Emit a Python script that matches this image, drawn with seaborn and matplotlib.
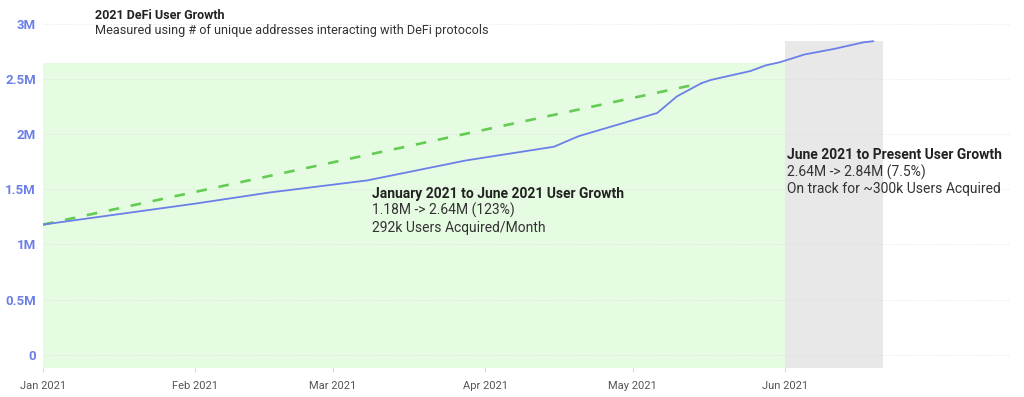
import matplotlib
matplotlib.use("Agg")
import matplotlib.pyplot as plt
import matplotlib.dates as mdates
import seaborn as sns
import pandas as pd

# unique DeFi addresses (millions)
dates = ["2021-01-01", "2021-02-01", "2021-02-16", "2021-03-08", "2021-03-28",
         "2021-04-15", "2021-04-20", "2021-05-06", "2021-05-10", "2021-05-15",
         "2021-05-17", "2021-05-25", "2021-05-28", "2021-05-31", "2021-06-05",
         "2021-06-11", "2021-06-17", "2021-06-19"]
users = [1.18, 1.37, 1.47, 1.58, 1.76,
         1.885, 1.98, 2.19, 2.34, 2.46,
         2.49, 2.57, 2.62, 2.65, 2.72,
         2.77, 2.83, 2.84]

trend_dates = ["2021-01-01", "2021-05-15"]
trend_users = [1.18, 2.46]

h1_span = ["2021-01-01", "2021-06-01"]
h1_top = 2.64
h2_span = ["2021-06-01", "2021-06-21"]
h2_top = 2.84

yticks = [0, 0.5, 1, 1.5, 2, 2.5, 3]
ytick_labels = ["0", "0.5M", "1M", "1.5M", "2M", "2.5M", "3M"]
xticks = ["2021-01-01", "2021-02-01", "2021-03-01", "2021-04-01", "2021-05-01", "2021-06-01"]

df = pd.DataFrame({"date": pd.to_datetime(dates), "users": users})
trend = pd.DataFrame({"date": pd.to_datetime(trend_dates), "users": trend_users})

sns.set_theme(style="white")
plt.rcParams["font.family"] = ["Roboto", "DejaVu Sans"]

fig = plt.figure(figsize=(10.24, 3.97), dpi=100)
ax = fig.add_axes([43 / 1024, 0.073, (1010 - 43) / 1024, 0.9547 - 0.073])

ymin, ymax = -0.118, 3.05
ax.fill_between(pd.to_datetime(h1_span), ymin, h1_top, color="#e6fce2", lw=0, zorder=0)
ax.fill_between(pd.to_datetime(h2_span), ymin, h2_top, color="#e8e8e8", lw=0, zorder=0)

for y in yticks:
    ax.axhline(y, color="#dcdcdc", lw=0.6, ls=(0, (1, 2)), zorder=0.5)

sns.lineplot(data=trend, x="date", y="users", ax=ax, color="#63cc52", lw=1.9,
             dashes=False, zorder=2).lines[-1].set_dashes((4, 4.5))
sns.lineplot(data=df, x="date", y="users", ax=ax, color="#6b7fe8", lw=1.3, zorder=3)

ax.set_ylim(ymin, ymax)
ax.set_xlim(pd.Timestamp("2021-01-01"), pd.Timestamp("2021-01-01") + pd.Timedelta(days=196.8))
ax.set_yticks(yticks)
ax.set_yticklabels(ytick_labels, color="#6b7fe8", fontsize=9.5, fontweight="bold")
ax.set_xticks(pd.to_datetime(xticks))
ax.xaxis.set_major_formatter(mdates.DateFormatter("%b %Y"))
ax.tick_params(axis="x", colors="#555555", labelsize=8, length=3, width=0.6,
               color="#cccccc", pad=6, direction="out", bottom=True)
ax.tick_params(axis="y", length=0, pad=5)
ax.set_xlabel("")
ax.set_ylabel("")
for s in ax.spines.values():
    s.set_visible(False)

fig.text(95 / 1024, 1 - 9 / 397, "2021 DeFi User Growth", fontsize=9,
         fontweight="bold", color="#222222", va="top")
fig.text(95 / 1024, 1 - 24 / 397, "Measured using # of unique addresses interacting with DeFi protocols",
         fontsize=9.1, color="#333333", va="top")

ax.text(pd.Timestamp("2021-03-09"), 1.52,
        "January 2021 to June 2021 User Growth", fontsize=10, fontweight="bold",
        color="#222222", va="top")
ax.text(pd.Timestamp("2021-03-09"), 1.52 - 0.145,
        "1.18M -> 2.64M (123%)\n292k Users Acquired/Month", fontsize=10,
        color="#333333", va="top", linespacing=1.2)

ax.text(pd.Timestamp("2021-06-01 10:00"), 1.87,
        "June 2021 to Present User Growth", fontsize=10, fontweight="bold",
        color="#222222", va="top")
ax.text(pd.Timestamp("2021-06-01 10:00"), 1.87 - 0.145,
        "2.64M -> 2.84M (7.5%)\nOn track for ~300k Users Acquired", fontsize=10,
        color="#333333", va="top", linespacing=1.2)

fig.savefig("out.png", dpi=100)
